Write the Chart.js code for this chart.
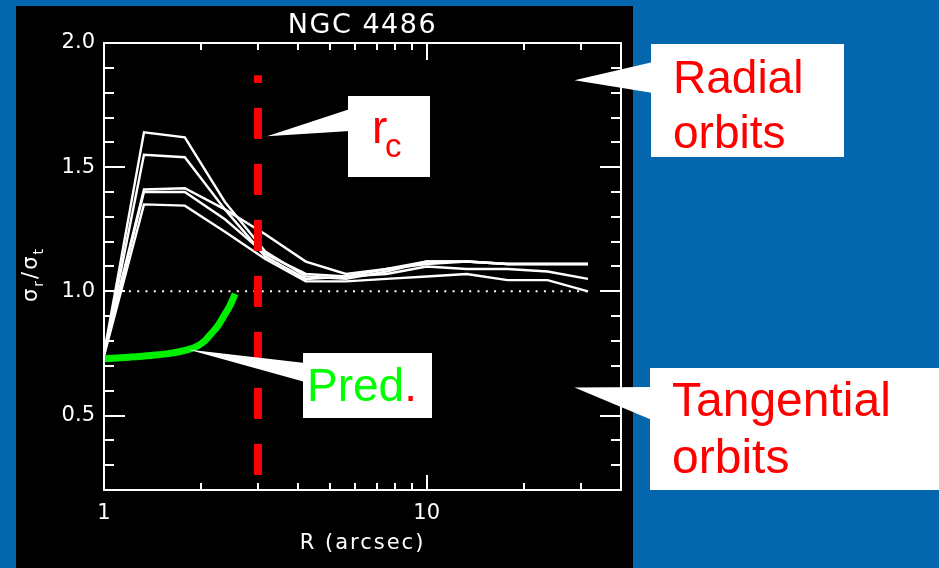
<!DOCTYPE html>
<html>
<head>
<meta charset="utf-8">
<title>NGC 4486 anisotropy</title>
<script src="https://cdn.jsdelivr.net/npm/chart.js@4.4.1/dist/chart.umd.min.js"></script>
<style>
  html, body { margin: 0; padding: 0; background: #0467ae; }
  canvas { display: block; }
</style>
</head>
<body>
<canvas id="c" width="939" height="568"></canvas>
<script>
// Radii (arcsec) of the model bins
const radii = [1, 1.33, 1.78, 2.37, 3.16, 4.22, 5.62, 7.50, 10, 13.3, 17.8, 23.7, 31.6];

// sigma_r / sigma_t for the five dynamical models
const modelA = [0.75, 1.64, 1.62, 1.36, 1.16, 1.06, 1.05, 1.08, 1.12, 1.12, 1.11, 1.11, 1.11];
const modelB = [0.74, 1.55, 1.54, 1.33, 1.14, 1.05, 1.06, 1.09, 1.11, 1.12, 1.11, 1.11, 1.11];
const modelC = [0.76, 1.41, 1.415, 1.33, 1.23, 1.12, 1.07, 1.09, 1.12, 1.12, 1.11, 1.11, 1.11];
const modelD = [0.75, 1.40, 1.40, 1.29, 1.15, 1.07, 1.06, 1.07, 1.10, 1.09, 1.09, 1.08, 1.05];
const modelE = [0.74, 1.35, 1.345, 1.24, 1.13, 1.04, 1.04, 1.05, 1.06, 1.07, 1.045, 1.045, 1.00];

// Predicted anisotropy inside the core
const predR     = [1.0, 1.2, 1.4, 1.6, 1.82, 1.95, 2.05, 2.15, 2.25, 2.35, 2.45, 2.55];
const predRatio = [0.728, 0.735, 0.742, 0.750, 0.765, 0.780, 0.800, 0.830, 0.860, 0.900, 0.940, 0.990];

// Core radius marker and isotropic reference
const coreRadius = 3.0;
const coreSpan = [0.26, 1.87];
const isotropic = 1.0;
const isoSpan = [1, 32.5];

// Axis ticks
const xTickLabels = [1, 10];
const xMinorTicks = [2, 3, 4, 5, 6, 7, 8, 9, 20, 30];
const yTickLabels = [0.5, 1.0, 1.5, 2.0];
const yMinorTicks = [0.3, 0.4, 0.6, 0.7, 0.8, 0.9, 1.1, 1.2, 1.3, 1.4, 1.6, 1.7, 1.8, 1.9];

const BLUE = '#0467ae';
const RED = '#ff0000';
const GREEN = '#00ee00';
const AXIS_FONT = { family: 'DejaVu Sans', size: 21, weight: 'normal' };

function modelSet(vals) {
  return {
    data: radii.map((r, i) => ({ x: r, y: vals[i] })),
    borderColor: '#ffffff',
    borderWidth: 2.4,
    pointRadius: 0,
    order: 2
  };
}

const datasets = [
  modelSet(modelA), modelSet(modelB), modelSet(modelC), modelSet(modelD), modelSet(modelE),
  {
    data: [{ x: coreRadius, y: coreSpan[0] }, { x: coreRadius, y: coreSpan[1] }],
    borderColor: RED, borderWidth: 8, borderDash: [31, 25], borderCapStyle: 'butt',
    pointRadius: 0, order: 0
  },
  {
    data: predR.map((r, i) => ({ x: r, y: predRatio[i] })),
    borderColor: GREEN, borderWidth: 7, cubicInterpolationMode: 'monotone',
    borderCapStyle: 'butt', pointRadius: 0, order: 1
  },
  {
    data: [{ x: isoSpan[0], y: isotropic }, { x: isoSpan[1], y: isotropic }],
    borderColor: '#ffffff', borderWidth: 2, borderDash: [2, 6.3],
    pointRadius: 0, order: 3
  }
];

// White callout box with a triangular pointer to a spot on the chart
function callout(ctx, box, tip, baseTop, baseBottom) {
  ctx.fillStyle = '#ffffff';
  ctx.beginPath();
  ctx.moveTo(tip.x, tip.y);
  ctx.lineTo(box.x + 2, baseTop);
  ctx.lineTo(box.x + 2, baseBottom);
  ctx.closePath();
  ctx.fill();
  ctx.fillRect(box.x, box.y, box.w, box.h);
}

const decor = {
  id: 'decor',
  beforeDraw(chart) {
    const ctx = chart.ctx;
    ctx.save();
    ctx.fillStyle = BLUE;
    ctx.fillRect(0, 0, chart.width, chart.height);
    ctx.fillStyle = '#000000';
    ctx.fillRect(16, 6, 617, chart.height - 6);
    ctx.restore();
  },
  afterDatasetsDraw(chart) {
    const ctx = chart.ctx;
    const { left, right, top, bottom } = chart.chartArea;
    const xs = chart.scales.x, ys = chart.scales.y;
    ctx.save();
    ctx.strokeStyle = '#ffffff';
    ctx.lineWidth = 2;
    ctx.strokeRect(left, top, right - left, bottom - top);
    ctx.beginPath();
    // inward ticks on all four sides
    yTickLabels.forEach(v => {
      const p = Math.round(ys.getPixelForValue(v));
      ctx.moveTo(left, p); ctx.lineTo(left + 21, p);
      ctx.moveTo(right, p); ctx.lineTo(right - 21, p);
    });
    yMinorTicks.forEach(v => {
      const p = Math.round(ys.getPixelForValue(v));
      ctx.moveTo(left, p); ctx.lineTo(left + 10, p);
      ctx.moveTo(right, p); ctx.lineTo(right - 10, p);
    });
    xTickLabels.forEach(v => {
      const p = Math.round(xs.getPixelForValue(v));
      ctx.moveTo(p, bottom); ctx.lineTo(p, bottom - 15);
      ctx.moveTo(p, top); ctx.lineTo(p, top + 17);
    });
    xMinorTicks.forEach(v => {
      const p = Math.round(xs.getPixelForValue(v));
      ctx.moveTo(p, bottom); ctx.lineTo(p, bottom - 7);
      ctx.moveTo(p, top); ctx.lineTo(p, top + 7);
    });
    ctx.stroke();

    // title and axis titles
    ctx.fillStyle = '#ffffff';
    ctx.textAlign = 'center';
    ctx.textBaseline = 'alphabetic';
    ctx.font = '27px "DejaVu Sans"';
    ctx.letterSpacing = '1.5px';
    ctx.fillText('NGC 4486', (left + right) / 2, 33);
    ctx.font = '21px "DejaVu Sans"';
    ctx.letterSpacing = '2px';
    ctx.fillText('R (arcsec)', (left + right) / 2, 549);

    // sigma_r / sigma_t, rotated
    ctx.letterSpacing = '0px';
    ctx.translate(37, 302);
    ctx.rotate(-Math.PI / 2);
    ctx.textAlign = 'left';
    const parts = [
      ['σ', 21, 0], ['r', 14, 6], ['/', 21, 0], ['σ', 21, 0], ['t', 14, 6]
    ];
    let cx = 0;
    parts.forEach(([t, s, dy]) => {
      ctx.font = s + 'px "DejaVu Sans"';
      ctx.fillText(t, cx, dy);
      cx += ctx.measureText(t).width + 2;
    });
    ctx.restore();
  },
  afterDraw(chart) {
    const ctx = chart.ctx;
    const xs = chart.scales.x, ys = chart.scales.y;
    const at = (r, v) => ({ x: xs.getPixelForValue(r), y: ys.getPixelForValue(v) });
    ctx.save();

    callout(ctx, { x: 348, y: 96, w: 82, h: 81 }, at(3.2, 1.625), 109, 131);
    callout(ctx, { x: 651, y: 44, w: 193, h: 113 }, at(28.7, 1.85), 62, 93);
    callout(ctx, { x: 650, y: 368, w: 289, h: 122 }, at(28.7, 0.613), 387, 420);
    callout(ctx, { x: 303, y: 353, w: 129, h: 65 }, at(1.82, 0.766), 363, 382);

    ctx.textAlign = 'left';
    ctx.textBaseline = 'alphabetic';
    ctx.fillStyle = RED;
    ctx.font = '46px "Liberation Sans"';
    ctx.fillText('r', 372, 143);
    ctx.font = '33px "Liberation Sans"';
    ctx.fillText('c', 385, 157);

    ctx.font = '46px "Liberation Sans"';
    ctx.fillText('Radial', 673, 93);
    ctx.fillText('orbits', 673, 148);

    ctx.font = '48px "Liberation Sans"';
    ctx.fillText('Tangential', 672, 416);
    ctx.fillText('orbits', 672, 473);

    ctx.font = '46px "Liberation Sans"';
    ctx.fillStyle = '#00ff00';
    ctx.fillText('Pred', 307, 401);
    const w = ctx.measureText('Pred').width;
    ctx.fillStyle = RED;
    ctx.fillText('.', 307 + w, 401);
    ctx.restore();
  }
};

new Chart(document.getElementById('c'), {
  type: 'line',
  data: { datasets },
  options: {
    responsive: false,
    animation: false,
    events: [],
    layout: { padding: { left: 0, right: 318, top: 43, bottom: 0 } },
    plugins: { legend: { display: false }, tooltip: { enabled: false }, title: { display: false } },
    elements: { point: { radius: 0 }, line: { tension: 0 } },
    scales: {
      x: {
        type: 'logarithmic', min: 1, max: 40,
        grid: { display: false, drawTicks: false },
        border: { display: false },
        afterBuildTicks: s => { s.ticks = xTickLabels.map(v => ({ value: v })); },
        afterFit: s => { s.height = 78; },
        ticks: {
          color: '#ffffff', font: AXIS_FONT, padding: 11,
          autoSkip: false, maxRotation: 0, minRotation: 0,
          callback: v => String(v)
        }
      },
      y: {
        type: 'linear', min: 0.2, max: 2.0,
        grid: { display: false, drawTicks: false },
        border: { display: false },
        afterBuildTicks: s => { s.ticks = yTickLabels.map(v => ({ value: v })); },
        afterFit: s => { s.width = 104; },
        ticks: {
          color: '#ffffff', font: AXIS_FONT, padding: 9,
          callback: v => Number(v).toFixed(1)
        }
      }
    }
  },
  plugins: [decor]
});
</script>
</body>
</html>
